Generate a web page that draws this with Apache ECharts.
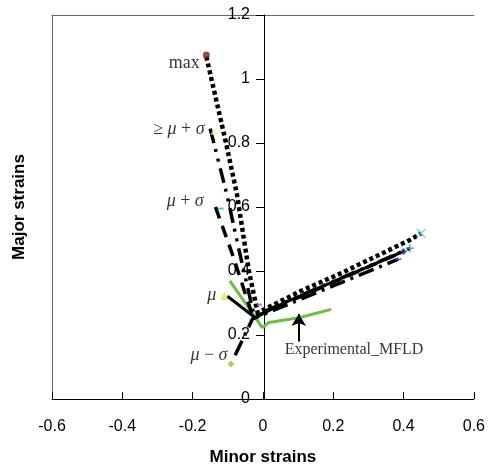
<!DOCTYPE html>
<html>
<head>
<meta charset="utf-8">
<script src="https://cdn.jsdelivr.net/npm/echarts@6/dist/echarts.min.js"></script>
<style>
  html, body { margin: 0; padding: 0; background: #fff; }
  #chart { width: 488px; height: 471px; }
</style>
</head>
<body>
<div id="chart"></div>
<script>
// Axis ranges and ticks
const xTicks = [-0.6, -0.4, -0.2, 0, 0.2, 0.4, 0.6];
const yTicks = [0, 0.2, 0.4, 0.6, 0.8, 1.0, 1.2];

// Forming limit curves: drawing branch, plane-strain point, stretching branch
const maxCurve = [[-0.161, 1.07], [-0.105, 0.80], [-0.074, 0.64], [-0.04, 0.40], [-0.015, 0.27],
                  [0.107, 0.337], [0.224, 0.394], [0.418, 0.497], [0.45, 0.518]];
const upperCurve = [[-0.15, 0.845], [-0.102, 0.636], [-0.068, 0.465], [-0.025, 0.26], [0.418, 0.471]];
const plusSigmaCurve = [[-0.135, 0.60], [-0.088, 0.456], [-0.028, 0.255], [0.40, 0.461]];
const meanCurve = [[-0.101, 0.321], [-0.022, 0.254], [0.059, 0.30], [0.40, 0.461]];
const minusSigmaCurve = [[-0.079, 0.137], [-0.03, 0.25], [0.385, 0.437]];
const experimentalMFLD = [[-0.094, 0.369], [-0.002, 0.223], [0.017, 0.239], [0.102, 0.254], [0.194, 0.28]];

// Curve names and their end-point markers
const curveNames = ['max', '≥ μ + σ', 'μ + σ', 'μ', 'μ − σ'];
const leftMarkers = [[-0.161, 1.075], [-0.139, 0.837], [-0.12, 0.595], [-0.11, 0.322], [-0.091, 0.109]];
const rightMarkers = [[0.45, 0.518], [0.418, 0.471], [0.40, 0.461], [0.385, 0.437]];
const psMarker = [[-0.01, 0.295]];

// Annotation for the experimental curve
const arrowShaft = [[0.102, 0.18], [0.102, 0.266]];
const experimentalLabel = [[0.062, 0.155]];
const experimentalText = 'Experimental_MFLD';

const SANS = 'Liberation Sans, Arial, sans-serif';
const SERIF = 'Liberation Serif, Times New Roman, serif';

const leftStyles = [
  { symbol: 'circle', size: 7, color: '#8b1a1a', offset: [0, 8], distance: 3 },
  { symbol: 'triangle', size: 7, color: '#f3eda0', offset: [0, -2], distance: 6 },
  { symbol: 'rect', size: [6, 2], color: '#38b4e0', offset: [0, -7], distance: 14 },
  { symbol: 'triangle', size: 8, color: '#ece040', offset: [0, -1], distance: 4 },
  { symbol: 'diamond', size: 7, color: '#8cc63f', offset: [0, -9], distance: 0 }
];
const rightStyles = [
  { symbol: 'path://M0,0L10,10M10,0L0,10', size: 9, color: '#6cd0e0' },
  { symbol: 'path://M5,0L5,10M0,5L10,5', size: 8, color: '#2a9d9d' },
  { symbol: 'diamond', size: 7, color: '#2a2a8a' },
  { symbol: 'rect', size: [6, 2], color: '#4060c8' }
];

function curve(data, width, type, z) {
  return {
    type: 'line', data: data, symbol: 'none', z: z || 3,
    lineStyle: { color: '#000', width: width, type: type, cap: 'butt', join: 'miter' },
    silent: true, animation: false
  };
}

const GRID = { left: 52, top: 15, right: 12, bottom: 69 };
const plotWidth = 488 - GRID.left - GRID.right;
const xMin = xTicks[0], xMax = xTicks[xTicks.length - 1];
// the value axis crosses at minor strain = 0
const yAxisShift = -plotWidth * (0 - xMin) / (xMax - xMin);

const chart = echarts.init(document.getElementById('chart'), null, { renderer: 'canvas' });

const option = {
  animation: false,
  grid: Object.assign({ containLabel: false }, GRID),
  xAxis: [
    {
      type: 'value', min: xMin, max: xMax, interval: 0.2,
      position: 'bottom',
      axisLine: { onZero: false, lineStyle: { color: '#000', width: 1 } },
      axisTick: { inside: true, length: 7, lineStyle: { color: '#000' } },
      axisLabel: { fontSize: 16, color: '#000', fontFamily: SANS, margin: 20,
                   formatter: v => String(Math.round(v * 10) / 10) },
      splitLine: { show: false },
      name: 'Minor strains', nameLocation: 'middle', nameGap: 50,
      nameTextStyle: { fontSize: 17, fontWeight: 'bold', color: '#000', fontFamily: SANS }
    },
    {
      type: 'value', min: xMin, max: xMax, position: 'top',
      axisLine: { show: true, onZero: false, lineStyle: { color: '#666', width: 1 } },
      axisTick: { show: false }, axisLabel: { show: false }, splitLine: { show: false }
    }
  ],
  yAxis: [
    {
      type: 'value', min: yTicks[0], max: yTicks[yTicks.length - 1], interval: 0.2,
      position: 'left', offset: yAxisShift,
      axisLine: { onZero: false, lineStyle: { color: '#000', width: 1 } },
      axisTick: { inside: false, length: 8, lineStyle: { color: '#000' } },
      axisLabel: { fontSize: 16, color: '#000', fontFamily: SANS, margin: 14,
                   padding: [6, 0, 0, 0],
                   formatter: v => String(Math.round(v * 10) / 10) },
      splitLine: { show: false }, z: 1
    },
    {
      type: 'value', min: yTicks[0], max: yTicks[yTicks.length - 1], position: 'left',
      axisLine: { show: true, onZero: false, lineStyle: { color: '#666', width: 1 } },
      axisTick: { show: false }, axisLabel: { show: false }, splitLine: { show: false },
      name: 'Major strains', nameLocation: 'middle', nameGap: 24, nameRotate: 90,
      nameTextStyle: { fontSize: 17, fontWeight: 'bold', color: '#000', fontFamily: SANS }
    }
  ],
  series: [
    {
      type: 'line', data: experimentalMFLD, symbol: 'none', z: 2, silent: true,
      lineStyle: { color: '#6cbf45', width: 3 }
    },
    curve(maxCurve, 4.5, [4, 3]),
    curve(upperCurve, 3.5, [15, 6, 3, 7, 3, 7]),
    curve(plusSigmaCurve, 3.5, [12, 8]),
    curve(meanCurve, 3, 'solid'),
    curve(minusSigmaCurve, 3.5, [16, 6, 3, 6]),
    {
      type: 'scatter', z: 5, silent: true,
      data: leftMarkers.map((p, i) => ({
        value: p, name: curveNames[i],
        symbol: leftStyles[i].symbol, symbolSize: leftStyles[i].size,
        itemStyle: { color: leftStyles[i].color },
        label: { offset: leftStyles[i].offset, distance: leftStyles[i].distance }
      })),
      label: {
        show: true, position: 'left', color: '#000', fontSize: 18, fontFamily: SERIF,
        formatter: p => p.name.replace(/[μσ]/g, c => '{i|' + c + '}'),
        rich: { i: { fontStyle: 'italic', fontSize: 18, fontFamily: SERIF, color: '#000' } }
      }
    },
    {
      type: 'scatter', z: 5, silent: true,
      data: rightMarkers.map((p, i) => ({
        value: p, symbol: rightStyles[i].symbol, symbolSize: rightStyles[i].size,
        itemStyle: rightStyles[i].symbol.startsWith('path')
          ? { color: 'none', borderColor: rightStyles[i].color, borderWidth: 1.5 }
          : { color: rightStyles[i].color }
      }))
    },
    {
      type: 'scatter', z: 4, silent: true, data: psMarker, symbol: 'rect', symbolSize: [5, 2],
      itemStyle: { color: '#c040c0' }
    },
    {
      type: 'scatter', z: 5, silent: true, data: experimentalLabel, symbolSize: 0,
      label: { show: true, position: 'right', distance: 0, formatter: experimentalText,
               fontSize: 16, fontFamily: SERIF, color: '#000' }
    },
    {
      type: 'line', data: [], silent: true,
      markLine: {
        silent: true, symbol: ['none', 'arrow'], symbolSize: [11, 12],
        label: { show: false },
        lineStyle: { color: '#000', width: 2, type: 'solid' },
        data: [[{ coord: arrowShaft[0] }, { coord: arrowShaft[1] }]]
      }
    }
  ]
};

chart.setOption(option);
</script>
</body>
</html>
